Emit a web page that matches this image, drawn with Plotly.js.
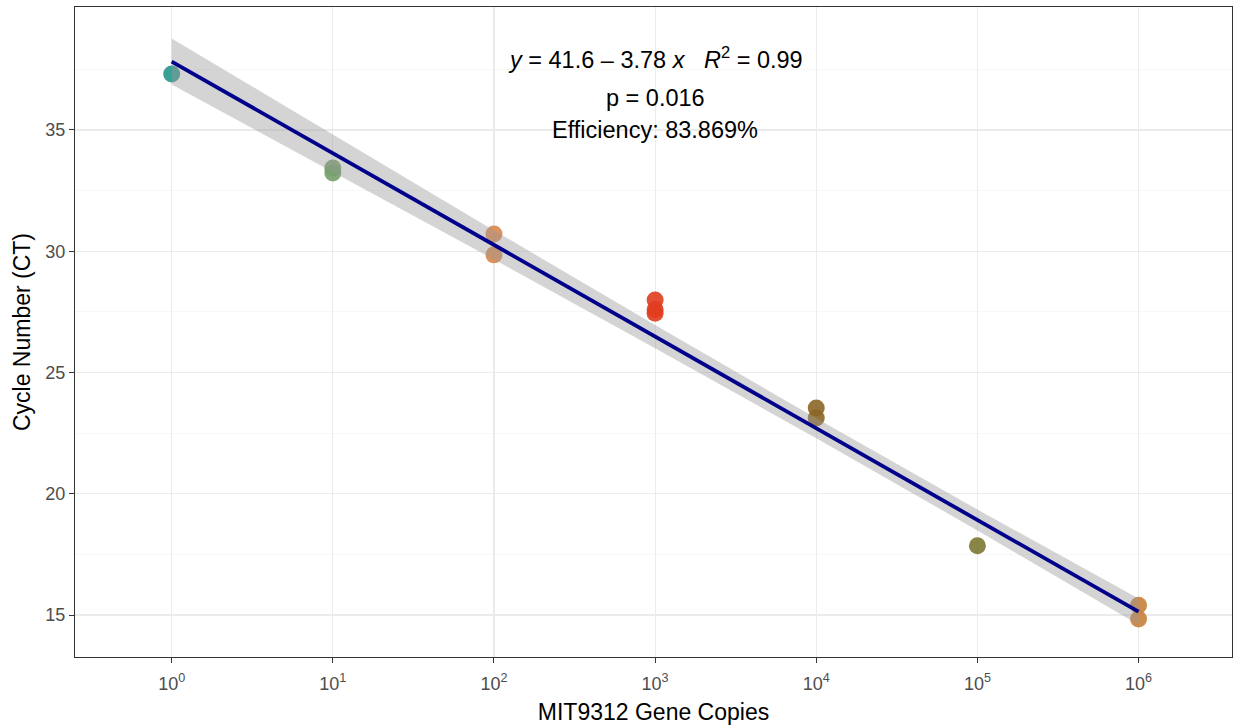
<!DOCTYPE html>
<html><head><meta charset="utf-8">
<script src="https://cdn.plot.ly/plotly-3.0.1.min.js"></script>
<style>html,body{margin:0;padding:0;background:#fff}#chart{width:1238px;height:725px}</style>
</head><body><div id="chart"></div>
<script>
// ---- data ----
const copyLevels    = [1, 10, 100, 1000, 10000, 100000, 1000000];
const levelColors   = ['#23968c', '#75a06b', '#d8864a', '#e03c1d', '#8b6626', '#7c7833', '#c77f3b'];
const geneCopies    = [1, 10, 10, 100, 100, 1000, 1000, 1000, 10000, 10000, 100000, 1000000, 1000000];
const cycleCT       = [37.31, 33.43, 33.23, 30.71, 29.85, 27.99, 27.60, 27.44, 23.54, 23.12, 17.86, 15.40, 14.84];
// half-width of the grey confidence band at each copy level
const bandHalfWidth = [0.95, 0.76, 0.60, 0.48, 0.41, 0.43, 0.54];
const tickVals      = [1, 10, 100, 1000, 10000, 100000, 1000000];
const tickText      = ['10<sup>0</sup>','10<sup>1</sup>','10<sup>2</sup>','10<sup>3</sup>','10<sup>4</sup>','10<sup>5</sup>','10<sup>6</sup>'];
// fitted equation as printed on the chart (equation x = log10(copies) + 1)
const eqIntercept   = 41.6;
const eqSlope       = -3.78;
const eqXOffset     = 1;
const eqLabel       = '<i>y</i> = 41.6 \u2013 3.78 <i>x</i>&nbsp;&nbsp;&nbsp;<i>R</i><sup>2</sup> = 0.99';
const pLabel        = 'p = 0.016';
const effLabel      = 'Efficiency: 83.869%';

// ---- derived ----
const fitY = c => eqIntercept + eqSlope * (Math.log10(c) + eqXOffset);
const lineY = copyLevels.map(fitY);
const bandUp = copyLevels.map((c,i) => lineY[i] + bandHalfWidth[i]);
const bandDn = copyLevels.map((c,i) => lineY[i] - bandHalfWidth[i]);
const pointColors = geneCopies.map(c => levelColors[copyLevels.indexOf(c)]);

const traces = [
  {x: geneCopies, y: cycleCT, type:'scatter', mode:'markers',
   marker:{size:17, color:pointColors, opacity:0.9, line:{width:0}}, showlegend:false},
  {x: copyLevels.concat(copyLevels.slice().reverse()), y: bandUp.concat(bandDn.slice().reverse()),
   type:'scatter', mode:'lines', fill:'toself', fillcolor:'rgba(153,153,153,0.42)', line:{width:0}, showlegend:false},
  {x: copyLevels, y: lineY, type:'scatter', mode:'lines', line:{color:'#00008b', width:3.8}, showlegend:false}
];

const fontFam = '"Liberation Sans", Arial, Helvetica, sans-serif';
const layout = {
  width:1238, height:725,
  margin:{l:75, r:6, t:7, b:68},
  paper_bgcolor:'#ffffff', plot_bgcolor:'#ffffff',
  font:{family:fontFam, color:'#000'},
  showlegend:false,
  xaxis:{type:'log', range:[-0.6, 6.58], tickmode:'array', tickvals:tickVals, ticktext:tickText,
    showgrid:true, gridcolor:'#ebebeb', gridwidth:1.1, zeroline:false,
    showline:true, mirror:true, linecolor:'#333333', linewidth:1,
    ticks:'outside', ticklen:5, tickcolor:'#333333', tickwidth:1, ticklabelstandoff:5,
    tickfont:{size:18, color:'#4d4d4d', family:fontFam},
    title:{text:'MIT9312 Gene Copies', font:{size:23, color:'#000', family:fontFam}, standoff:12}},
  yaxis:{range:[13.27, 40.07], tickmode:'array', tickvals:[15,20,25,30,35],
    showgrid:true, gridcolor:'#ebebeb', gridwidth:1.1, zeroline:false,
    minor:{tickmode:'array', tickvals:[17.5,22.5,27.5,32.5,37.5], showgrid:true, gridcolor:'#f2f2f2', gridwidth:0.6, ticks:''},
    showline:true, mirror:true, linecolor:'#333333', linewidth:1,
    ticks:'outside', ticklen:5, tickcolor:'#333333', tickwidth:1,
    tickfont:{size:18, color:'#4d4d4d', family:fontFam},
    title:{text:'Cycle Number (CT)', font:{size:23, color:'#000', family:fontFam}, standoff:8}},
  annotations:[
    {x:3, y:37.97, xref:'x', yref:'y', text:eqLabel, showarrow:false, font:{size:23.5, color:'#000', family:fontFam}},
    {x:3, y:36.32, xref:'x', yref:'y', text:pLabel, showarrow:false, font:{size:23.5, color:'#000', family:fontFam}},
    {x:3, y:35.0, xref:'x', yref:'y', text:effLabel, showarrow:false, font:{size:23.5, color:'#000', family:fontFam}}
  ]
};
Plotly.newPlot('chart', traces, layout, {displayModeBar:false, staticPlot:true});
</script>
</body></html>
